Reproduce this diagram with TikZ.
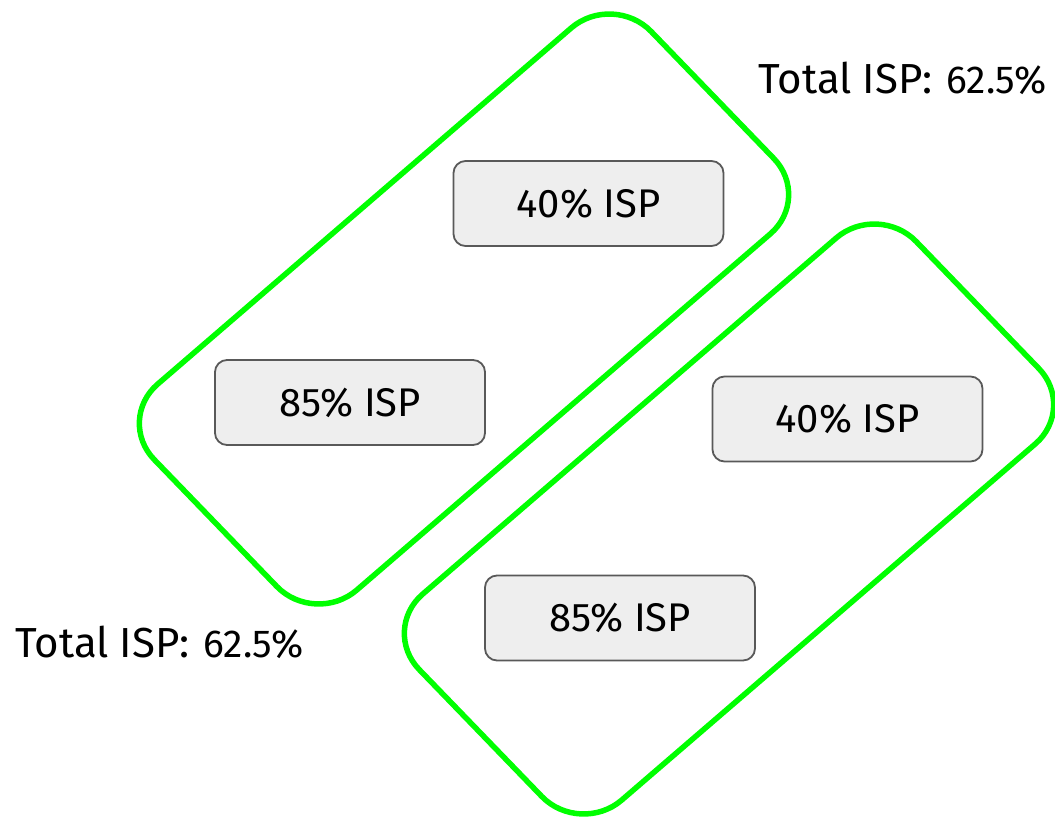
\documentclass[tikz,border=0pt]{standalone}
\usepackage{fontspec}
\setmainfont{Fira Sans}
\definecolor{grpgreen}{HTML}{00FF00}
\definecolor{boxgray}{HTML}{595959}
\definecolor{boxfill}{HTML}{EEEEEE}
\begin{document}
\begin{tikzpicture}[x=1pt,y=-1pt,
  grp/.style={draw=grpgreen, line width=5.5pt, rounded corners=55pt},
  isp/.style={draw=boxgray, fill=boxfill, line width=1.8pt, rounded corners=12pt,
    minimum width=270pt, minimum height=85pt, inner sep=0pt,
    font=\fontsize{40}{48}\selectfont},
  total/.style={anchor=base west, inner sep=0pt, font=\fontsize{42}{50}\selectfont}]
\useasboundingbox (0,0) rectangle (1055,819);
% group outlines
\coordinate (g1t) at (613,-8);
\coordinate (g1r) at (812,198);
\coordinate (g1b) at (315,626);
\coordinate (g1l) at (116,420);
\draw[grp] (g1t) -- (g1r) -- (g1b) -- (g1l) -- cycle;
\begin{scope}[shift={(265,210)}]
\coordinate (g2t) at (613,-8);
\coordinate (g2r) at (812,198);
\coordinate (g2b) at (315,626);
\coordinate (g2l) at (116,420);
\end{scope}
\draw[grp] (g2t) -- (g2r) -- (g2b) -- (g2l) -- cycle;
% boxes
\node[isp] (a40) at (588.5,203.5) {40\% ISP};
\node[isp] (a85) at (350,402.5) {85\% ISP};
\node[isp] (b40) at (847.5,419) {40\% ISP};
\node[isp] (b85) at (620,618) {85\% ISP};
% totals
\node[total] (ta) at (758,93) {Total ISP:\hspace{14pt}{\fontsize{39}{46}\selectfont 62.5\%}};
\node[total] (tb) at (15,657) {Total ISP:\hspace{14pt}{\fontsize{39}{46}\selectfont 62.5\%}};
\end{tikzpicture}
\end{document}
